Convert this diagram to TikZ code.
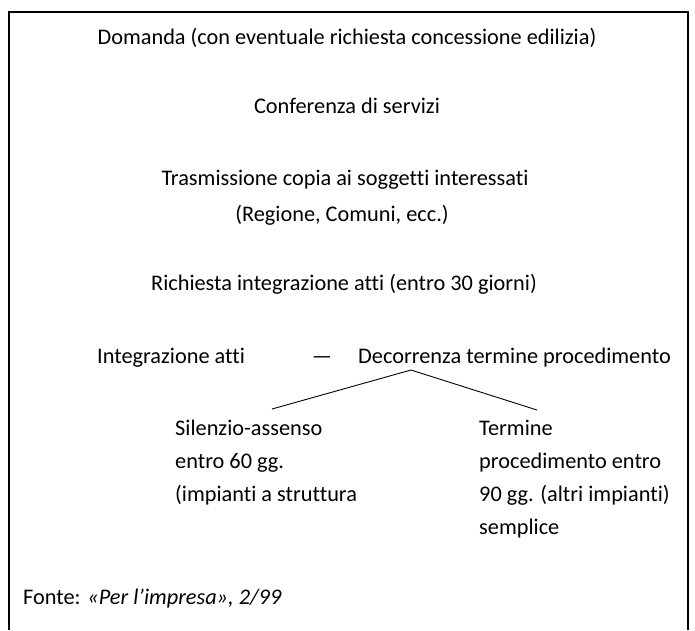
\documentclass[tikz,border=0pt]{standalone}
\usepackage{fontspec}
\setmainfont{Carlito}[Ligatures={NoCommon}]
\tikzset{
  txt/.style={inner sep=0pt, font=\fontsize{22.3}{26}\selectfont, anchor=base},
  txtl/.style={txt, anchor=base west},
  conn/.style={line width=0.9pt},
  frame/.style={line width=1.3pt}
}
\begin{document}
\begin{tikzpicture}[x=1pt,y=-1pt]
\useasboundingbox (0,0) rectangle (695,630);
\draw[frame] (9,630) -- (9,12) -- (688,12) -- (688,630);
\node[txt] (dom) at (347,44) {Domanda (con eventuale richiesta concessione edilizia)};
\node[txt] (conf) at (347,113) {Conferenza di servizi};
\node[txt] (tras) at (345,185) {Trasmissione copia ai soggetti interessati};
\node[txt] (reg) at (342,221) {(Regione, Comuni, ecc.)};
\node[txt] (rich) at (344,290) {Richiesta integrazione atti (entro 30 giorni)};
\node[txtl] (integ) at (97,363) {Integrazione atti};
\node[txt] (dash) at (322,363) {—};
\node[txtl] (dec) at (358,363) {Decorrenza termine procedimento};
\coordinate (apex) at (411,370);
\coordinate (lend) at (272,409);
\coordinate (rend) at (537,410);
\draw[conn] (lend) -- (apex) -- (rend);
\node[txtl] (sil1) at (175,435) {Silenzio-assenso};
\node[txtl] (sil2) at (175,468) {entro 60 gg.};
\node[txtl] (sil3) at (175,501) {(impianti a struttura};
\node[txtl] (ter1) at (479,435) {Termine};
\node[txtl] (ter2) at (479,468) {procedimento entro};
\node[txtl] (ter3) at (479,501) {90 gg. (altri impianti)};
\node[txtl] (ter4) at (479,534) {semplice};
\node[txtl] (fonte) at (23,604) {Fonte: \textit{«Per l’impresa», 2/99}};
\end{tikzpicture}
\end{document}
